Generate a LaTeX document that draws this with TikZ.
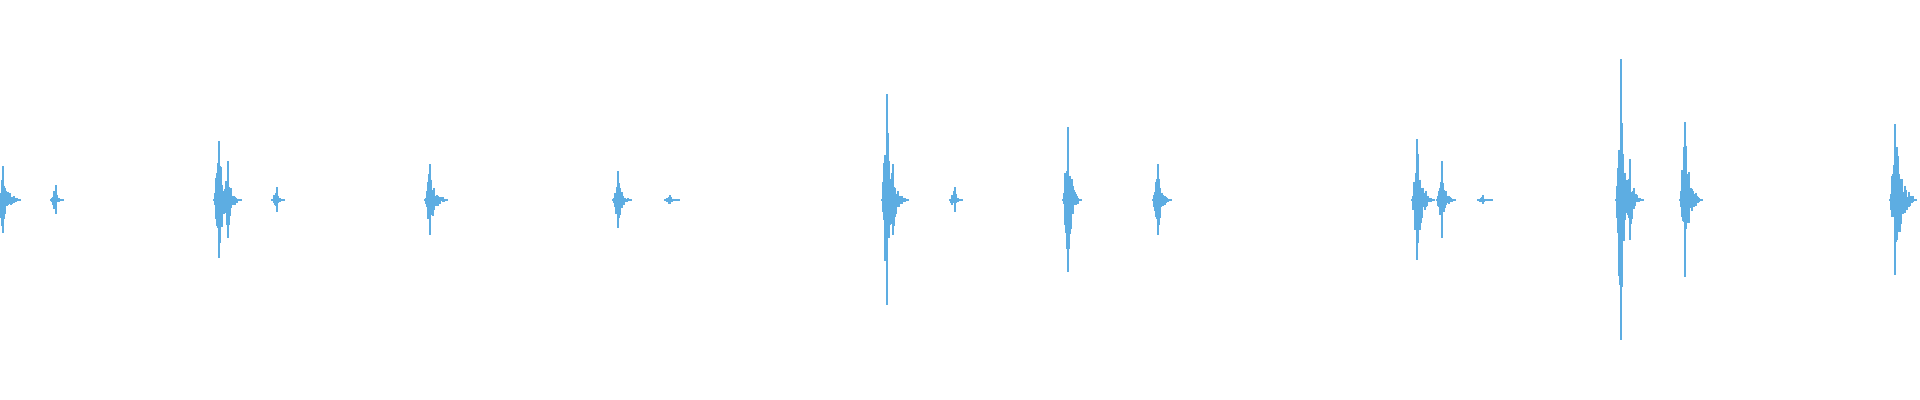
\documentclass[tikz,border=0pt]{standalone}
\usepackage{tikz}
\definecolor{wave}{RGB}{93,173,226}
\begin{document}
\begin{tikzpicture}
[x=0.01cm,y=0.01cm,%
  wavebar/.style={draw=wave,line width=0.012cm}]
\useasboundingbox (0,0) rectangle (1920,400);
\pgfmathsetseed{7}
%% bursts: centre / peak / decay length
\foreach \cx/\amp/\len in {3/33/14, 56/14/4, 219/58/12, 228/38/10, 277/12/4,
  430/35/14, 618/28/10, 670/4/6, 887/105/8, 893/35/12, 955/12/4,
  1068/72/10, 1158/35/10, 1417/60/14, 1442/38/10, 1483/4/6,
  1621/140/8, 1630/40/10, 1685/77/14, 1895/75/18}
{
  \foreach \i in {-4,...,\len}
  {
    \pgfmathsetmacro\env{(\i<0) ? \amp*(1+\i/5) : \amp*exp(-\i*3/\len)}
    \pgfmathsetmacro\up{(\i==0) ? \env : \env*(0.25+0.75*rnd)}
    \pgfmathsetmacro\dn{(\i==0) ? \env : \env*(0.25+0.75*rnd)}
    \draw[wavebar] (\cx+\i,200+\up+0.5) -- (\cx+\i,200-\dn-0.5);
  }
  \draw[wavebar] (\cx-6,200) -- (\cx+\len+4,200);
}
\end{tikzpicture}
\end{document}
